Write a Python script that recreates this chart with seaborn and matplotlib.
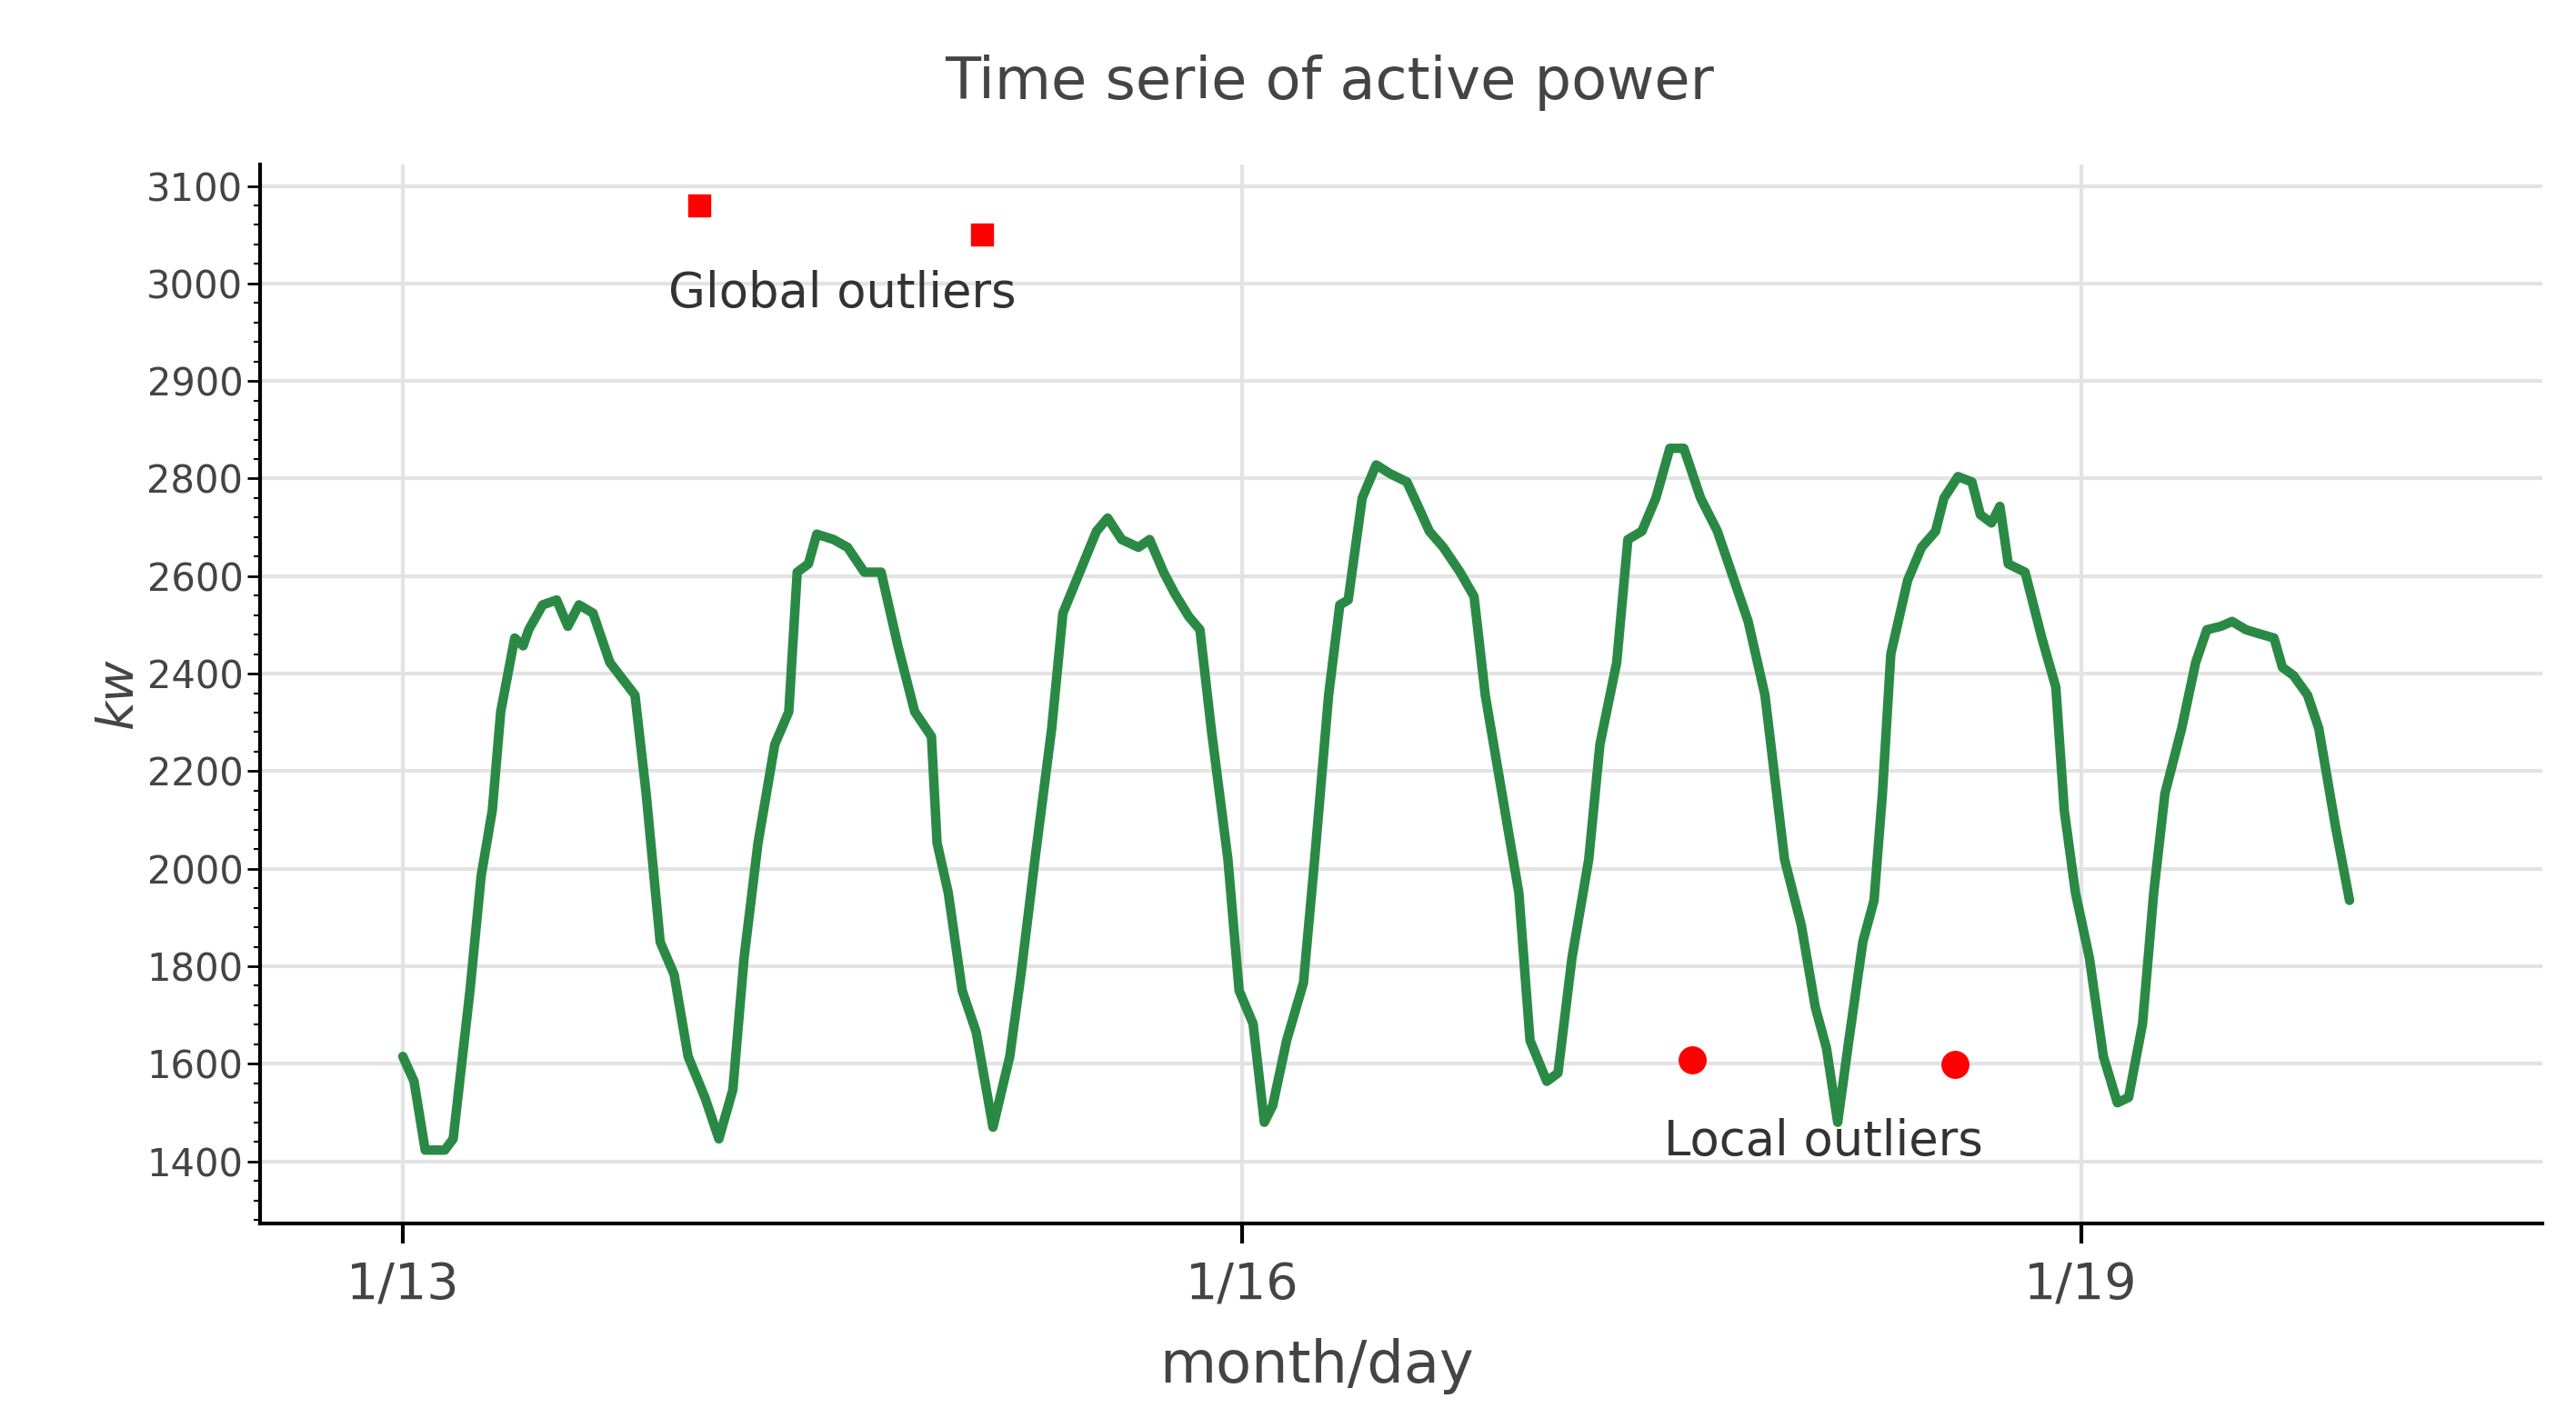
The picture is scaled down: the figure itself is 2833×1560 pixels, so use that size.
import numpy as np
import matplotlib.pyplot as plt
import seaborn as sns
import pandas as pd

sns.set_theme(style="whitegrid")

# day offset from 1/13, active power in kw
dias = [0.00, 0.04, 0.08, 0.15, 0.18, 0.24, 0.28, 0.32, 0.35, 0.40, 0.43, 0.45, 0.50, 0.55, 0.59, 0.63,
        0.68, 0.74, 0.83, 0.87, 0.92, 0.97, 1.02, 1.08, 1.13, 1.18, 1.22, 1.27, 1.33, 1.38, 1.41, 1.45,
        1.48, 1.54, 1.59, 1.65, 1.71, 1.77, 1.83, 1.89, 1.91, 1.95, 2.00, 2.05, 2.11, 2.17, 2.21, 2.26,
        2.32, 2.36, 2.42, 2.48, 2.52, 2.57, 2.63, 2.67, 2.72, 2.76, 2.81, 2.85, 2.89, 2.95, 2.99, 3.04,
        3.08, 3.11, 3.16, 3.22, 3.26, 3.31, 3.35, 3.38, 3.43, 3.48, 3.53, 3.59, 3.63, 3.67, 3.72, 3.78,
        3.83, 3.87, 3.93, 3.99, 4.03, 4.09, 4.13, 4.18, 4.24, 4.28, 4.34, 4.38, 4.43, 4.48, 4.53, 4.58,
        4.64, 4.70, 4.75, 4.81, 4.87, 4.94, 5.00, 5.05, 5.09, 5.13, 5.17, 5.22, 5.26, 5.29, 5.32, 5.38,
        5.43, 5.48, 5.51, 5.56, 5.61, 5.64, 5.68, 5.71, 5.74, 5.80, 5.86, 5.91, 5.94, 5.98, 6.03, 6.08,
        6.13, 6.17, 6.22, 6.26, 6.30, 6.36, 6.41, 6.45, 6.50, 6.54, 6.59, 6.63, 6.69, 6.72, 6.76, 6.81,
        6.85, 6.91, 6.96]
potencia = [1615, 1564, 1423, 1423, 1446, 1750, 1985, 2120, 2322, 2473, 2457, 2490, 2541, 2551, 2497, 2541,
            2524, 2423, 2356, 2154, 1850, 1783, 1615, 1531, 1446, 1547, 1817, 2053, 2255, 2322, 2608, 2625,
            2686, 2675, 2659, 2608, 2608, 2457, 2322, 2271, 2053, 1951, 1750, 1665, 1470, 1615, 1783, 2019,
            2288, 2524, 2608, 2692, 2719, 2675, 2659, 2675, 2608, 2564, 2517, 2490, 2288, 2019, 1750, 1682,
            1480, 1514, 1648, 1766, 2019, 2356, 2541, 2551, 2760, 2814, 2805, 2793, 2743, 2692, 2659, 2608,
            2558, 2356, 2154, 1951, 1648, 1564, 1581, 1817, 2019, 2255, 2423, 2675, 2692, 2760, 2831, 2831,
            2760, 2692, 2608, 2507, 2356, 2019, 1884, 1716, 1632, 1480, 1648, 1850, 1935, 2154, 2440, 2591,
            2659, 2692, 2760, 2802, 2793, 2726, 2709, 2743, 2625, 2608, 2473, 2372, 2120, 1951, 1817, 1615,
            1520, 1531, 1682, 1951, 2154, 2288, 2423, 2490, 2497, 2507, 2490, 2483, 2473, 2413, 2396, 2356,
            2288, 2086, 1935]

global_dias = [1.06, 2.07]
global_kw = [3080, 3050]
local_dias = [4.61, 5.55]
local_kw = [1608, 1598]

ytick_vals = [1400, 1600, 1800, 2000, 2200, 2400, 2600, 2800, 2900, 3000, 3100]
xtick_dias = [0, 3, 6]
xtick_labels = ['1/13', '1/16', '1/19']


# eje y no uniforme: 200 kw por paso hasta 2800, luego 100 kw por paso
def fwd(v):
    v = np.asarray(v, dtype=float)
    return np.where(v <= 2800, (v - 1400) / 200, 7 + (v - 2800) / 100)


def inv(u):
    u = np.asarray(u, dtype=float)
    return np.where(u <= 7, 1400 + u * 200, 2800 + (u - 7) * 100)


df = pd.DataFrame({'dia': dias, 'kw': potencia})

fig = plt.figure(figsize=(28.33, 15.6), dpi=100)
ax = fig.add_axes([0.101, 0.137, 0.886, 0.747])
ax.set_yscale('function', functions=(fwd, inv))

sns.lineplot(data=df, x='dia', y='kw', ax=ax, color='#2a8a45', linewidth=7.5)
ax.scatter(global_dias, global_kw, marker='s', s=300, color='red', zorder=5)
ax.scatter(local_dias, local_kw, marker='o', s=450, color='red', zorder=5)

ax.text(1.57, 2990, 'Global outliers', fontsize=38, color='#333333', ha='center', va='center')
ax.text(5.08, 1440, 'Local outliers', fontsize=38, color='#333333', ha='center', va='center')

ax.set_xlim(-0.51, 7.65)
ax.set_ylim(1272, 3122)
ax.set_yticks(ytick_vals)
ax.set_yticklabels([str(v) for v in ytick_vals], fontsize=30, color='#444444')
minor = inv(np.arange(-0.6, 10.2, 0.2))
ax.set_yticks(minor, minor=True)
ax.set_xticks(xtick_dias)
ax.set_xticklabels(xtick_labels, fontsize=40, color='#444444')
ax.tick_params(axis='y', which='major', length=10, width=2, color='black', left=True)
ax.tick_params(axis='y', which='minor', length=5, width=1.5, color='black', left=True)
ax.tick_params(axis='x', which='major', length=16, width=3, color='black', bottom=True, pad=14)
ax.grid(True, which='major', color='#e3e3e3', linewidth=3)
ax.grid(False, which='minor')
for side in ['top', 'right']:
    ax.spines[side].set_visible(False)
for side in ['left', 'bottom']:
    ax.spines[side].set_color('black')
    ax.spines[side].set_linewidth(3)

ax.set_xlabel('')
ax.set_ylabel('kw', fontsize=40, color='#444444', style='italic')
fig.text(0.511, 0.025, 'month/day', fontsize=46, color='#444444', ha='center')
fig.text(0.516, 0.93, 'Time serie of active power', fontsize=46, color='#444444', ha='center')

fig.savefig('out.png', dpi=100)
